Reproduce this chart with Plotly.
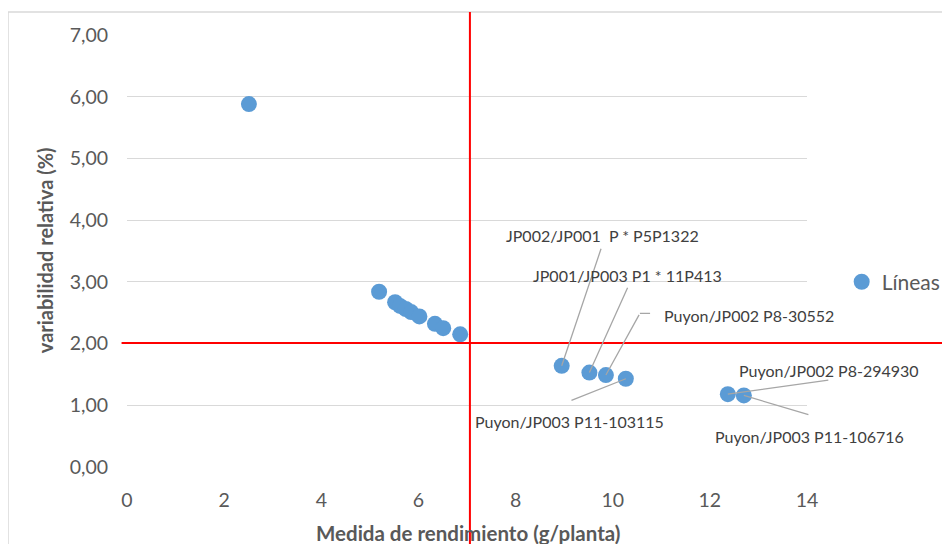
import plotly.graph_objects as go

# ---- data ----
rend_x = [2.51, 5.19, 5.52, 5.62, 5.74, 5.85, 6.02, 6.34, 6.51, 6.86,
          8.95, 9.52, 9.86, 10.27, 12.37, 12.70]
var_y = [5.88, 2.84, 2.67, 2.61, 2.56, 2.51, 2.44, 2.32, 2.25, 2.15,
         1.64, 1.53, 1.49, 1.43, 1.18, 1.16]

MEAN_X = 7.06
MEAN_Y = 2.01

label_names = ["JP002/JP001  P * P5P1322", "JP001/JP003 P1 * 11P413",
               "Puyon/JP002 P8-30552", "Puyon/JP003 P11-103115",
               "Puyon/JP002 P8-294930", "Puyon/JP003 P11-106716"]
label_point_idx = [10, 11, 12, 13, 14, 15]
# text position (data coords) and leader line path (data coords, from label side)
label_pos = [(9.78, 3.75), (10.30, 3.10), (12.80, 2.46),
             (9.12, 0.745), (14.45, 1.57), (14.06, 0.50)]
leader_paths = [[(9.77, 3.56)], [(10.32, 2.93)], [(10.80, 2.49), (10.56, 2.49)],
                [(9.12, 1.07)], [(14.47, 1.41)], [(14.06, 0.84)]]

X_RANGE = [0, 14]
Y_RANGE = [0, 7]
x_ticks = [0, 2, 4, 6, 8, 10, 12, 14]
y_ticks = [0, 1, 2, 3, 4, 5, 6, 7]

FONT = "Lato"
GRAY = "#595959"

xspan = X_RANGE[1] - X_RANGE[0]
yspan = Y_RANGE[1] - Y_RANGE[0]


def px_(x):
    return (x - X_RANGE[0]) / xspan


def py_(y):
    return (y - Y_RANGE[0]) / yspan


fig = go.Figure()
fig.add_trace(go.Scatter(
    x=rend_x, y=var_y, mode="markers", name="Líneas",
    marker=dict(size=16, color="#5b9bd5"),
))

annotations = []
# leader lines as arrow-only annotations
for idx, path in zip(label_point_idx, leader_paths):
    pts = path + [(rend_x[idx], var_y[idx])]
    for (ax0, ay0), (x1, y1) in zip(pts[:-1], pts[1:]):
        annotations.append(dict(
            x=x1, y=y1, ax=ax0, ay=ay0, xref="x", yref="y", axref="x", ayref="y",
            text="", showarrow=True, arrowhead=0, arrowwidth=1.3,
            arrowcolor="#a6a6a6", standoff=0, startstandoff=0))
for name, (tx, ty) in zip(label_names, label_pos):
    annotations.append(dict(
        x=px_(tx), y=py_(ty), xref="paper", yref="paper", text=name, showarrow=False,
        font=dict(family=FONT, size=16, color="#404040"),
        xanchor="center", yanchor="middle"))

annotations.append(dict(
    x=(468 - 127) / 680, y=-0.153, xref="paper", yref="paper",
    xanchor="center", yanchor="middle",
    text="<b>Medida de rendimiento (g/planta)</b>", showarrow=False,
    font=dict(family=FONT, size=20.5, color=GRAY)))
annotations.append(dict(
    x=-0.1206, y=0.502, xref="paper", yref="paper", textangle=-90,
    xanchor="center", yanchor="middle",
    text="<b>variabilidad relativa (%)</b>", showarrow=False,
    font=dict(family=FONT, size=20, color=GRAY)))

shapes = [
    # chart area border
    dict(type="rect", xref="paper", yref="paper", x0=-0.175, y0=-0.3, x1=1.4, y1=1.053,
         line=dict(color="#d9d9d9", width=1.5), layer="below"),
    # mean lines
    dict(type="line", xref="paper", yref="paper",
         x0=px_(MEAN_X), x1=px_(MEAN_X),
         y0=-0.3, y1=1.053, line=dict(color="#ff0000", width=2)),
    dict(type="line", xref="paper", yref="paper",
         x0=-0.008, x1=1.4,
         y0=py_(MEAN_Y), y1=py_(MEAN_Y),
         line=dict(color="#ff0000", width=2)),
]

fig.update_layout(
    width=950, height=544,
    margin=dict(l=119, r=151, t=27, b=85, autoexpand=False),
    paper_bgcolor="white", plot_bgcolor="white",
    separators=",.",
    font=dict(family=FONT, color=GRAY),
    showlegend=True,
    legend=dict(x=1.051, y=0.428, xanchor="left", yanchor="middle",
                font=dict(family=FONT, size=21, color=GRAY),
                bgcolor="rgba(0,0,0,0)", itemwidth=30),
    annotations=annotations,
    shapes=shapes,
    xaxis=dict(range=X_RANGE, tickvals=x_ticks, showgrid=False, zeroline=False,
               showline=False, ticks="", tickfont=dict(family=FONT, size=19.5, color=GRAY),
               ticklabelstandoff=19, fixedrange=True, automargin=False),
    yaxis=dict(range=Y_RANGE, tickvals=y_ticks, tickformat=".2f", showgrid=True,
               gridcolor="#d9d9d9", gridwidth=1.3, zeroline=False, showline=False,
               ticks="", tickfont=dict(family=FONT, size=19.5, color=GRAY),
               ticklabelstandoff=18, fixedrange=True, automargin=False),
)

fig.write_html("out.html")
